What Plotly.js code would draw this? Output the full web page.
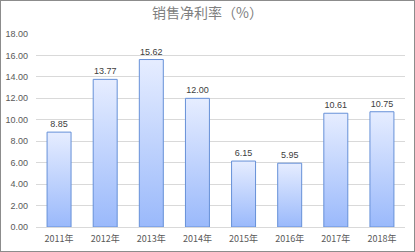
<!DOCTYPE html>
<html><head><meta charset="utf-8">
<script src="https://cdn.plot.ly/plotly-3.0.1.min.js"></script>
<style>
html,body{margin:0;padding:0;background:#fff;}
#c{width:413px;height:250px;border:1px solid #8c8c8c;}
</style></head>
<body><div id="c"></div>
<script>
const years = ['2011年','2012年','2013年','2014年','2015年','2016年','2017年','2018年'];
const values = [8.85, 13.77, 15.62, 12.00, 6.15, 5.95, 10.61, 10.75];
const yTicks = [0,2,4,6,8,10,12,14,16,18];

const trace = {
  type:'bar', x: years, y: values,
  marker:{color:'#bcd0fc', line:{color:'#6690d8', width:1}},
  width:0.52,
  text: values.map(v=>v.toFixed(2)), textposition:'outside',
  textfont:{family:'Liberation Sans, Arial, sans-serif', size:9, color:'#404040'},
  cliponaxis:false, hoverinfo:'none'
};
const layout = {
  width:413, height:250,
  margin:{l:35, r:9, t:33, b:24},
  paper_bgcolor:'#fff', plot_bgcolor:'#fff',
  title:{text:'销售净利率（%）', x:0.5, xanchor:'center', y:0.95, yanchor:'middle',
    font:{family:'Noto Sans CJK SC, sans-serif', size:14, color:'#808080'}},
  xaxis:{type:'category', showgrid:false, zeroline:false, showline:false, ticks:'',
    ticklabelstandoff:5,
    tickfont:{family:'Noto Sans CJK SC, sans-serif', size:9, color:'#595959'}},
  yaxis:{range:[0,18], tickvals:yTicks, tickformat:'.2f', showgrid:true, gridcolor:'#d9d9d9',
    gridwidth:1, zeroline:true, zerolinecolor:'#d9d9d9', showline:false, ticks:'',
    ticklabelstandoff:7,
    tickfont:{family:'Liberation Sans, Arial, sans-serif', size:9, color:'#595959'}},
  showlegend:false, font:{family:'Liberation Sans, Arial, sans-serif'}
};
Plotly.newPlot('c',[trace],layout,{displayModeBar:false, staticPlot:true}).then(gd=>{
  const svg = gd.querySelector('svg.main-svg');
  const ns='http://www.w3.org/2000/svg';
  let defs = svg.querySelector('defs');
  const lg = document.createElementNS(ns,'linearGradient');
  lg.setAttribute('id','barGrad'); lg.setAttribute('x1','0'); lg.setAttribute('y1','0');
  lg.setAttribute('x2','0'); lg.setAttribute('y2','1');
  [['0','#e6edff'],['1','#9ab9fb']].forEach(([o,c])=>{
    const s=document.createElementNS(ns,'stop'); s.setAttribute('offset',o); s.setAttribute('stop-color',c); lg.appendChild(s);
  });
  defs.appendChild(lg);
  gd.querySelectorAll('.bars .point path').forEach(p=>{ p.style.fill='url(#barGrad)'; p.style.fillOpacity=1; });
});
</script></body></html>
